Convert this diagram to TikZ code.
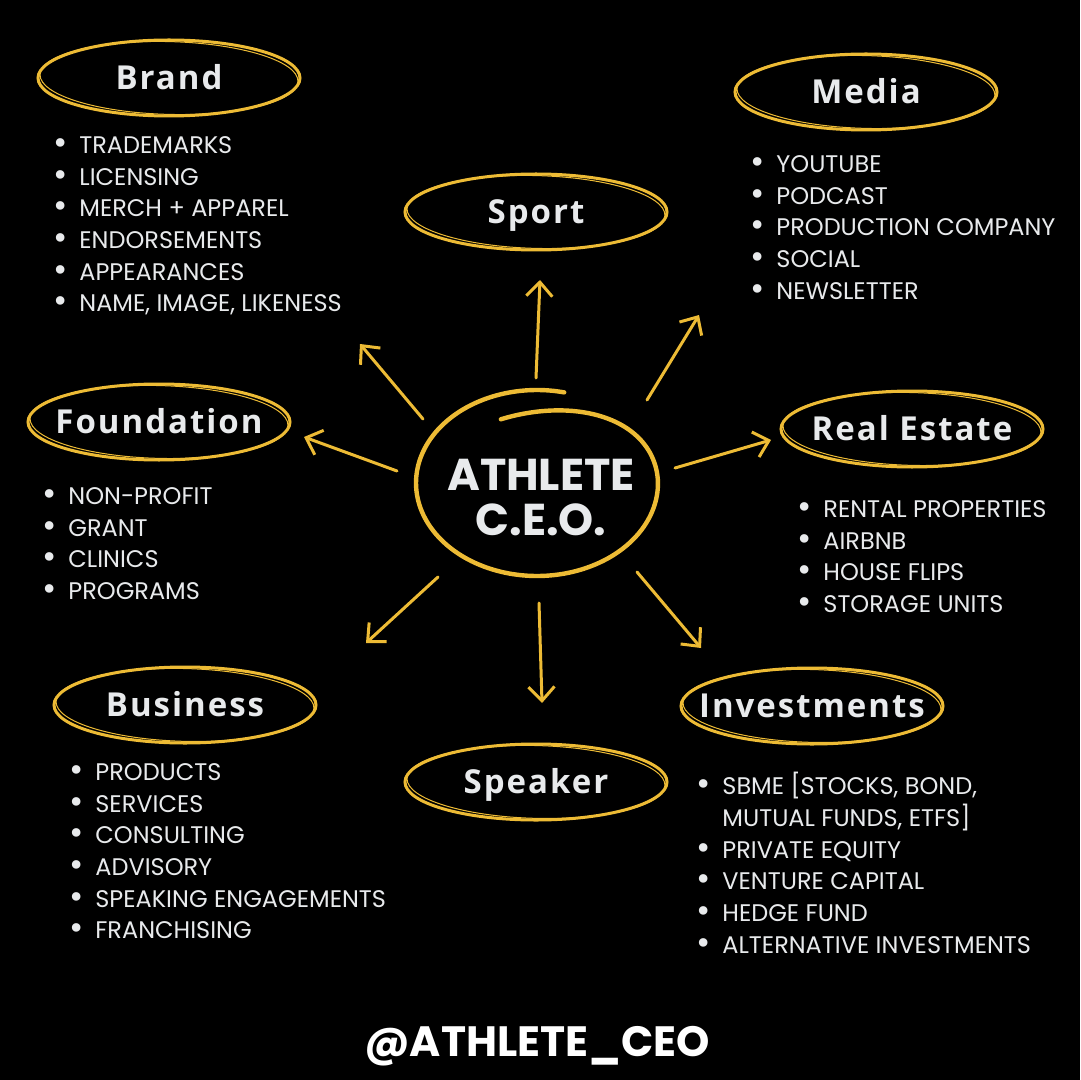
\documentclass[tikz,border=0pt]{standalone}
\usepackage{fontspec}
\usepackage{tikz}
\usetikzlibrary{arrows.meta, shapes.geometric}
\setmainfont{Poppins}
\newfontfamily\headfont[LetterSpace=6]{Open Sans}
\definecolor{gold}{HTML}{EDBB35}
\definecolor{chalk}{HTML}{E8EAEC}
\newcommand{\bl}{\llap{\raisebox{-.5pt}{\scalebox{1.45}{\textbullet}}\hspace{6pt}}}
\tikzstyle{bubble}=[ellipse, inner sep=0pt, text height=11.8pt, text depth=0pt, text=chalk, font=\headfont\bfseries\fontsize{16.5}{18}\selectfont]
\tikzstyle{ring}=[draw=gold, line width=1.5pt]
\tikzstyle{sketch}=[draw=gold, line width=.5pt]
\tikzstyle{list}=[anchor=north west, inner sep=0pt, align=left, text=chalk, font=\fontsize{12}{15.85}\selectfont]
\tikzstyle{arrow}=[draw=gold, line width=1.5pt, line cap=round, -{Straight Barb[length=7pt,width=13pt,line width=1.5pt]}]

\begin{document}
\begin{tikzpicture}[x=0.5pt, y=-0.5pt]

	\fill[black] (0,0) rectangle (1080,1080);
	\useasboundingbox (0,0) rectangle (1080,1080);

	% centre
	\node[text=chalk, font=\bfseries\fontsize{22.3}{22.5}\selectfont, align=center] (ceo) at (541,498) {ATHLETE\\C.E.O.};
	\draw[gold, line width=2.2pt, line cap=round, shift={(ceo.center)}]
		plot[smooth, domain=77:468, samples=90, variable=\t]
		({-4 + (121-4*max(0,\t-360)/108)*cos(\t)}, {-15 - (93-26*max(0,\t-360)/108)*sin(\t)});

	% headings
	\node[bubble] (brand) at (169,78) {Brand};
	\node[bubble] (sport) at (536,212) {Sport};
	\node[bubble] (media) at (866,92) {Media};
	\node[bubble] (foundation) at (159,422) {Foundation};
	\node[bubble] (realestate) at (912,429) {Real Estate};
	\node[bubble] (business) at (185,705) {Business};
	\node[bubble] (speaker) at (536,782) {Speaker};
	\node[bubble] (investments) at (812,706) {Investments};

	\foreach \n in {brand, sport, media, foundation, realestate, business, speaker, investments}{
		\draw[ring] (\n.center) ellipse [x radius=65.5pt, y radius=19pt];
		\draw[sketch, rotate around={-1.5:(\n.center)}] (\n.center) ellipse [x radius=64.5pt, y radius=18.2pt];
	}

	% lists
	\node[list] (brandlist) at (79,136) {\bl TRADEMARKS\\ \bl LICENSING\\ \bl MERCH + APPAREL\\ \bl ENDORSEMENTS\\ \bl APPEARANCES\\ \bl NAME, IMAGE, LIKENESS};
	\node[list] (medialist) at (776,155) {\bl YOUTUBE\\ \bl PODCAST\\ \bl PRODUCTION COMPANY\\ \bl SOCIAL\\ \bl NEWSLETTER};
	\node[list] (foundationlist) at (68,487) {\bl NON-PROFIT\\ \bl GRANT\\ \bl CLINICS\\ \bl PROGRAMS};
	\node[list] (realestatelist) at (823,500) {\bl RENTAL PROPERTIES\\ \bl AIRBNB\\ \bl HOUSE FLIPS\\ \bl STORAGE UNITS};
	\node[list] (businesslist) at (95,763) {\bl PRODUCTS\\ \bl SERVICES\\ \bl CONSULTING\\ \bl ADVISORY\\ \bl SPEAKING ENGAGEMENTS\\ \bl FRANCHISING};
	\node[list] (investmentslist) at (722,772) {\bl SBME [STOCKS, BOND,\\ MUTUAL FUNDS, ETFS]\\ \bl PRIVATE EQUITY\\ \bl VENTURE CAPITAL\\ \bl HEDGE FUND\\ \bl ALTERNATIVE INVESTMENTS};

	% arrows out of the centre
	\foreach \n/\sx/\sy/\tx/\ty in {brand/423/419/360/344, sport/536/378/540/280, media/647/400/699/315, realestate/675/468/771/440, investments/637/572/701/648, speaker/539/603/542/703, business/438/577/366/643, foundation/397/471/304/437}{
		\coordinate (s-\n) at (\sx,\sy);
		\coordinate (t-\n) at (\tx,\ty);
		\draw[arrow] (s-\n) -- (t-\n);
	}

	\node[text=white, font=\bfseries\fontsize{21.2}{22}\selectfont] (handle) at (537,1046) {@ATHLETE\_CEO};

\end{tikzpicture}
\end{document}
